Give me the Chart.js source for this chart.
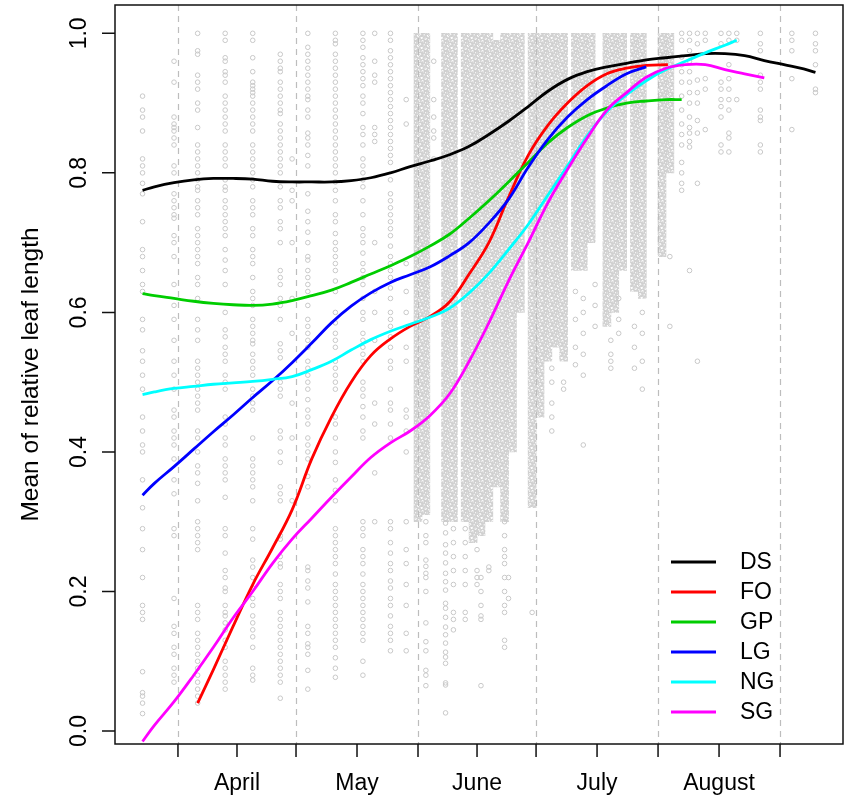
<!DOCTYPE html>
<html>
<head>
<meta charset="utf-8">
<script src="https://cdn.jsdelivr.net/npm/chart.js@4"></script>
<style>
  html, body { margin: 0; padding: 0; background: #fff; }
</style>
</head>
<body>
<canvas id="chart" width="848" height="796"></canvas>
<script>
// Day of year for the x axis, value = mean relative leaf length
const seriesNames = ['DS', 'FO', 'GP', 'LG', 'NG', 'SG'];
const seriesColors = ['#000000', '#ff0000', '#00cd00', '#0000ff', '#00ffff', '#ff00ff'];

const dsDays = [82,85,90,95,100,105,110,115,120,125,130,135,140,145,150,155,160,165,170,175,180,185,190,195,200,205,210,215,220,225,230,235,240,245,250,253];
const dsVals = [.775,.780,.786,.790,.792,.792,.791,.788,.787,.787,.787,.789,.793,.800,.809,.817,.826,.838,.855,.874,.895,.917,.934,.945,.952,.957,.962,.965,.968,.971,.971,.968,.961,.955,.949,.944];

const foDays = [96,100,105,110,115,120,125,130,135,140,145,150,155,160,165,170,175,180,185,190,195,200,205,210,215.5];
const foVals = [.04,.088,.15,.21,.262,.317,.39,.45,.50,.538,.562,.58,.594,.615,.655,.70,.765,.825,.868,.90,.925,.942,.95,.954,.955];

const gpDays = [82,85,90,95,100,105,110,115,120,125,130,135,140,145,150,155,160,165,170,175,180,185,190,195,200,205,210,215,219];
const gpVals = [.627,.624,.620,.616,.613,.611,.610,.612,.617,.624,.632,.643,.655,.667,.680,.695,.712,.735,.760,.787,.815,.843,.865,.882,.893,.900,.903,.905,.905];

const lgDays = [82,85,90,95,100,105,110,115,120,125,130,135,140,145,150,155,160,165,170,175,180,185,190,195,200,205,210];
const lgVals = [.338,.355,.379,.404,.429,.453,.478,.502,.528,.556,.585,.609,.628,.643,.654,.665,.681,.700,.728,.762,.808,.848,.880,.905,.925,.942,.952];

const ngDays = [82,85,90,95,100,105,110,115,120,125,130,135,140,145,150,155,160,165,170,175,180,185,190,195,200,205,210,215,220,225,230,233];
const ngVals = [.482,.486,.491,.494,.497,.499,.501,.504,.508,.518,.530,.546,.561,.573,.583,.593,.606,.628,.656,.690,.726,.768,.810,.853,.888,.912,.932,.948,.960,.972,.983,.990];

const sgDays = [82,85,90,95,100,105,110,115,120,125,130,135,140,145,150,155,160,165,170,175,180,185,190,195,200,205,210,215,220,225,230,235,240];
const sgVals = [-.015,.008,.042,.08,.12,.162,.20,.24,.275,.305,.335,.364,.392,.413,.43,.452,.483,.53,.585,.645,.70,.757,.805,.85,.89,.915,.937,.95,.955,.955,.948,.942,.936];

// raw observations: sparse columns of points, one list per sampling day
const dotDays = [82,90,96,103,110,117,120,124,131,138,141,145,149,156,
  154,159,161,164,167,168,170,174,175,181,
  186,189,192,194,197,201,203,207,209,216,219,221,223,225,229,231,233,239,247,253];
const dotVals = [
  [.91,.89,.88,.86,.82,.81,.80,.785,.77,.73,.69,.68,.66,.64,.63,.59,.575,.545,.53,.51,.49,.45,.43,.41,.40,.36,.32,.29,.26,.22,.18,.17,.16,.085,.055,.05,.04,.025],
  [.96,.93,.88,.87,.865,.86,.85,.84,.81,.80,.77,.76,.75,.74,.735,.71,.70,.68,.64,.61,.59,.56,.53,.51,.49,.46,.45,.43,.42,.41,.39,.36,.34,.29,.28,.19,.15,.14,.12,.11,.09,.08,.07],
  [1.0,.975,.97,.94,.93,.92,.90,.89,.865,.84,.83,.82,.81,.80,.79,.78,.775,.76,.75,.74,.72,.71,.70,.69,.68,.67,.65,.64,.62,.59,.575,.56,.53,.52,.51,.50,.49,.48,.47,.46,.43,.42,.40,.38,.37,.355,.33,.30,.29,.28,.27,.26,.18,.17,.16,.14,.13,.12,.11,.10,.09,.08,.07,.06,.05,.04],
  [1.0,.99,.965,.96,.945,.94,.93,.91,.90,.89,.88,.87,.86,.84,.83,.82,.81,.79,.78,.775,.76,.75,.74,.73,.72,.71,.69,.675,.66,.64,.60,.575,.565,.55,.54,.53,.51,.50,.49,.45,.44,.42,.41,.39,.38,.37,.36,.335,.29,.28,.255,.23,.22,.205,.20,.18,.17,.165,.155,.145,.13,.12,.10,.09,.08,.07,.06],
  [1.0,.99,.965,.945,.93,.925,.92,.915,.91,.90,.89,.88,.87,.86,.84,.83,.82,.81,.80,.79,.78,.76,.75,.74,.72,.71,.69,.68,.67,.65,.63,.62,.61,.59,.58,.57,.56,.555,.54,.53,.52,.51,.49,.48,.47,.46,.42,.39,.38,.37,.36,.35,.33,.29,.275,.245,.235,.22,.205,.19,.18,.165,.155,.145,.135,.12,.09,.08,.073],
  [.97,.96,.95,.945,.93,.92,.91,.90,.89,.885,.87,.86,.85,.84,.83,.82,.81,.80,.78,.76,.75,.73,.72,.70,.66,.65,.64,.62,.61,.59,.555,.545,.535,.50,.49,.48,.43,.42,.40,.385,.35,.34,.33,.28,.275,.25,.24,.235,.21,.20,.19,.17,.16,.15,.14,.13,.12,.11,.10,.09,.08,.07,.047],
  [.82,.775,.76,.70,.62,.57,.47,.42,.33],
  [1.0,.98,.97,.96,.95,.94,.93,.92,.91,.905,.89,.88,.857,.85,.84,.825,.81,.77,.745,.73,.715,.70,.68,.675,.66,.65,.64,.63,.61,.59,.58,.57,.56,.55,.53,.52,.51,.50,.49,.475,.46,.45,.44,.42,.41,.40,.39,.365,.35,.235,.23,.215,.205,.185,.15,.14,.125,.12,.11,.087,.06],
  [1.0,.99,.985,.97,.96,.95,.94,.93,.92,.91,.90,.89,.88,.87,.86,.85,.84,.83,.82,.81,.80,.787,.775,.76,.74,.73,.713,.70,.69,.68,.67,.66,.645,.63,.60,.585,.57,.56,.55,.53,.52,.51,.50,.49,.45,.44,.42,.40,.385,.36,.345,.33,.29,.28,.27,.26,.25,.24,.225,.21,.20,.19,.18,.17,.16,.15,.14,.13,.12,.105,.09,.077],
  [1.0,.99,.98,.965,.955,.945,.935,.925,.91,.90,.885,.865,.855,.84,.82,.81,.80,.79,.78,.76,.74,.72,.71,.70,.685,.67,.66,.65,.64,.62,.60,.59,.57,.56,.55,.54,.53,.50,.49,.48,.465,.45,.43,.42,.30,.29,.28,.26,.25,.24,.225,.21,.20,.19,.18,.17,.16,.15,.14,.13,.10,.08],
  [1.0,.96,.94,.93,.865,.855,.845,.70,.63,.60,.56,.47,.44,.37,.30],
  [1.0,.99,.975,.965,.955,.945,.935,.925,.915,.905,.895,.885,.875,.865,.855,.845,.835,.825,.815,.79,.77,.76,.75,.74,.73,.72,.71,.695,.68,.67,.66,.65,.635,.62,.60,.59,.58,.565,.55,.53,.52,.49,.47,.46,.44,.42,.30,.29,.27,.255,.24,.23,.215,.205,.19,.18,.165,.15,.14,.13,.115],
  [.905,.87,.67,.63,.60,.55,.53,.46,.45,.43,.40,.30,.26,.24,.21,.18,.14,.115],
  [.96,.905,.88,.86,.85,.82],
  [.30,.28,.27,.245,.236,.226,.22,.20,.155,.128,.115,.087,.08,.065],
  [.298,.284,.267,.255,.241,.226,.214,.202,.183,.176,.163,.149,.138,.126,.113,.106,.097,.069,.066,.026],
  [.29,.27,.25,.23,.21,.17,.16,.145],
  [.29,.27,.25,.23,.21,.17,.16],
  [.26,.23,.22,.21],
  [.22,.20,.18,.165,.16,.065],
  [.235,.23],
  [.30,.28,.26,.25,.24,.22,.20,.18,.17,.13,.12],
  [.22,.19],
  [.17],
  [.52,.50,.47,.45,.43],
  [.50,.49],
  [.63,.59,.55,.525],
  [.62,.60,.57,.54,.51,.41],
  [.64,.61,.58],
  [.56,.54,.53,.52],
  [.62,.59,.57],
  [.58,.55,.52],
  [.60,.57,.53,.49],
  [.68,.58],
  [1.0,.99,.966,.955,.945,.93,.91,.89,.87,.855,.84,.815,.80,.785,.775],
  [1.0,.99,.975,.96,.945,.93,.915,.90,.88,.865,.857,.845,.837,.66],
  [1.0,.985,.933,.915,.90,.875,.857,.785,.53],
  [1.0,.99,.935,.92,.862],
  [1.0,.985,.93,.92,.905,.895,.88,.84,.83],
  [1.0,.99,.955,.935,.92,.905,.89,.857,.85,.83],
  [1.0,.99,.905],
  [1.0,.985,.975,.94,.93,.92,.89,.88,.875,.84,.83],
  [1.0,.99,.975,.935,.862],
  [1.0,.985,.975,.955,.92,.915]
];

// dense sampling days in June/July: observations overlap into solid bands
const stripDays = [152,154,159,161,164,166,168,170,172,174,176,178,181,183,185,187,189,192,194,196,200,202,204,207,209,214,216];
const stripLo = [.30,.31,.30,.30,.30,.27,.28,.30,.35,.30,.40,.60,.32,.45,.53,.55,.53,.66,.66,.70,.58,.60,.66,.63,.62,.68,.80];
const stripHi = [1,1,1,1,1,1,1,1,.99,1,1,1,1,1,1,1,1,1,1,1,1,1,1,1,1,1,1];

// axes
const gridDays = [91, 121, 152, 182, 213, 244];
const xTickDays = [91, 106, 121, 136.5, 152, 167, 182, 197.5, 213, 228.5, 244];
const monthDays = [106, 136.5, 167, 197.5, 228.5];
const monthNames = ['April', 'May', 'June', 'July', 'August'];
const yTicks = [0, 0.2, 0.4, 0.6, 0.8, 1.0];
const yTitle = 'Mean of relative leaf length';

const FONT = '"Liberation Sans", Arial, sans-serif';

const toPts = (days, vals) => days.map((d, i) => ({ x: d, y: vals[i] }));

const dotPts = [];
dotDays.forEach((d, i) => dotVals[i].forEach(v => dotPts.push({ x: d, y: v })));

const stripPts = stripDays.map((d, i) => ({ x: d, y: [stripLo[i], stripHi[i]] }));

// texture of overlapping open circles for the dense bands
function circleTexture() {
  const c = document.createElement('canvas');
  c.width = 10; c.height = 10;
  const g = c.getContext('2d');
  g.strokeStyle = '#d0d0d0';
  g.lineWidth = 1;
  const spots = [[2.5, 1.5], [6.5, 2.5], [4, 5], [8, 6], [2, 7.5], [5.5, 8.5], [9, 0.5], [0.5, 4.5], [7, 9.5], [4.5, 3]];
  spots.forEach(([cx, cy]) => {
    for (let dx = -10; dx <= 10; dx += 10) {
      for (let dy = -10; dy <= 10; dy += 10) {
        g.beginPath();
        g.arc(cx + dx, cy + dy, 2.3, 0, Math.PI * 2);
        g.stroke();
      }
    }
  });
  return g.createPattern(c, 'repeat');
}

const curves = [[dsDays, dsVals], [foDays, foVals], [gpDays, gpVals], [lgDays, lgVals], [ngDays, ngVals], [sgDays, sgVals]];

const lineSets = curves.map((c, i) => ({
  type: 'line',
  label: seriesNames[i],
  data: toPts(c[0], c[1]),
  borderColor: seriesColors[i],
  borderWidth: 2.8,
  pointRadius: 0,
  showLine: true,
  fill: false,
  tension: 0.4,
  order: 6 - i
}));

const rStyle = {
  id: 'rStyle',
  beforeDatasetDraw(chart, args) {
    if (chart.data.datasets[args.index].label !== 'DS') return;
    const { ctx, chartArea: a } = chart;
    const x = chart.scales.x;
    ctx.save();
    ctx.strokeStyle = '#bdbdbd';
    ctx.lineWidth = 1.2;
    ctx.setLineDash([6, 5]);
    gridDays.forEach(d => {
      const px = Math.round(x.getPixelForValue(d)) + 0.5;
      ctx.beginPath();
      ctx.moveTo(px, a.top);
      ctx.lineTo(px, a.bottom);
      ctx.stroke();
    });
    ctx.restore();
  },
  afterDraw(chart) {
    const { ctx, chartArea: a } = chart;
    const x = chart.scales.x, y = chart.scales.y;
    ctx.save();
    ctx.strokeStyle = '#111';
    ctx.lineWidth = 1.5;
    ctx.strokeRect(a.left, a.top, a.right - a.left, a.bottom - a.top);

    // x axis ticks and y axis ticks
    ctx.beginPath();
    xTickDays.forEach(d => {
      const px = x.getPixelForValue(d);
      ctx.moveTo(px, a.bottom);
      ctx.lineTo(px, a.bottom + 13);
    });
    yTicks.forEach(v => {
      const py = y.getPixelForValue(v);
      ctx.moveTo(a.left, py);
      ctx.lineTo(a.left - 13, py);
    });
    ctx.stroke();

    ctx.fillStyle = '#000';
    ctx.font = '23px ' + FONT;
    ctx.textAlign = 'center';
    ctx.textBaseline = 'alphabetic';
    monthDays.forEach((d, i) => ctx.fillText(monthNames[i], x.getPixelForValue(d), 790));

    ctx.textBaseline = 'middle';
    yTicks.forEach(v => {
      ctx.save();
      ctx.translate(80, y.getPixelForValue(v));
      ctx.rotate(-Math.PI / 2);
      ctx.fillText(v.toFixed(1), 0, 0);
      ctx.restore();
    });

    ctx.save();
    ctx.font = '24.5px ' + FONT;
    ctx.translate(31, (a.top + a.bottom) / 2);
    ctx.rotate(-Math.PI / 2);
    ctx.fillText(yTitle, 0, 0);
    ctx.restore();

    // legend
    ctx.textAlign = 'left';
    seriesNames.forEach((name, i) => {
      const ly = 562 + i * 30;
      ctx.strokeStyle = seriesColors[i];
      ctx.lineWidth = 2.8;
      ctx.beginPath();
      ctx.moveTo(671, ly);
      ctx.lineTo(716, ly);
      ctx.stroke();
      ctx.fillStyle = '#000';
      ctx.fillText(name, 740, ly + 1);
    });
    ctx.restore();
  }
};

new Chart(document.getElementById('chart'), {
  type: 'scatter',
  data: {
    datasets: [
      ...lineSets,
      {
        type: 'scatter',
        label: 'obs',
        data: dotPts,
        pointStyle: 'circle',
        pointRadius: 2.3,
        borderWidth: 1,
        borderColor: '#c8c8c8',
        backgroundColor: 'rgba(0,0,0,0)',
        order: 9
      },
      {
        type: 'bar',
        label: 'obs dense',
        data: stripPts,
        backgroundColor: circleTexture(),
        borderWidth: 0,
        barThickness: 8,
        grouped: false,
        order: 10
      }
    ]
  },
  options: {
    responsive: false,
    devicePixelRatio: 1,
    animation: false,
    events: [],
    layout: { padding: { left: 115, top: 5, right: 3, bottom: 52 } },
    scales: {
      x: { type: 'linear', min: 75, max: 260, offset: false, display: false },
      y: { type: 'linear', min: -0.0186, max: 1.0406, display: false }
    },
    plugins: {
      legend: { display: false },
      tooltip: { enabled: false }
    }
  },
  plugins: [rStyle]
});
</script>
</body>
</html>
